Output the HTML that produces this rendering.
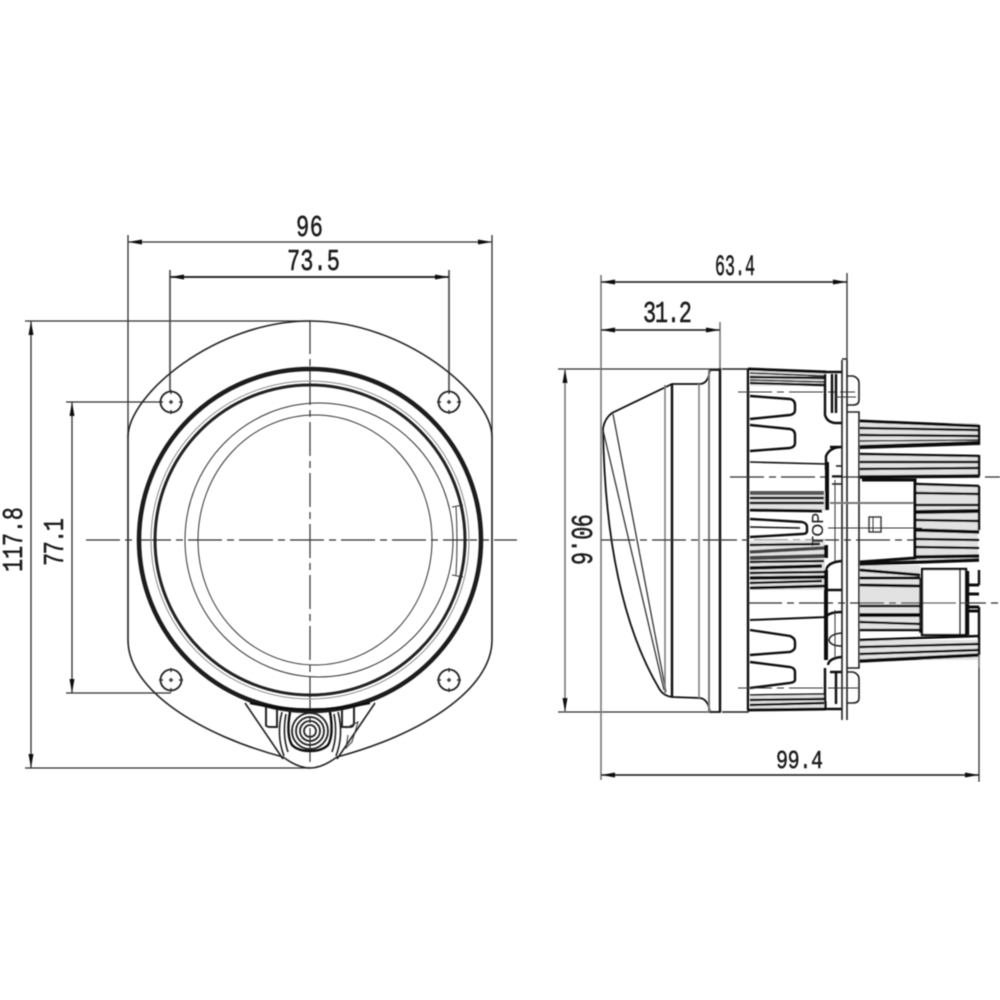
<!DOCTYPE html>
<html><head><meta charset="utf-8"><style>
html,body{margin:0;padding:0;background:#fff;width:1000px;height:1000px;overflow:hidden}
svg{display:block}
text{font-family:"Liberation Mono",monospace;fill:#1a1a1a;font-size:22px;stroke:#1a1a1a;stroke-width:.35}
.d{stroke:#333;stroke-width:1.3;fill:none}
.g{stroke:#777;stroke-width:2;fill:none}
.c{stroke:#333;stroke-width:1.2;fill:none;stroke-dasharray:34 5 7 5}
.o{stroke:#222;stroke-width:1.6;fill:none}
.t{stroke:#333;stroke-width:1;fill:none}
.k{stroke:#111;stroke-width:2.4;fill:none}
.y{stroke:#666;stroke-width:3.5;fill:none}
.a{fill:#111;stroke:none}
</style></head><body>
<svg width="1000" height="1000" viewBox="0 0 1000 1000" xmlns="http://www.w3.org/2000/svg">
<defs><filter id="b" x="0" y="0" width="1" height="1"><feGaussianBlur stdDeviation="0.45"/></filter></defs>
<g filter="url(#b)">

<!-- left dimensions -->
<path class="d" d="M128 235V437M492 235V437M128 242H492"/>
<path class="k" style="stroke-width:1.8;stroke:#555" d="M170 270V391M449 270V391"/>
<path class="k" style="stroke-width:1.8" d="M170 277H449"/>
<path class="d" d="M25 321H310M25 768H310M31 321V768M66 402H160M66 693H171M72 402V693"/>
<path class="a" d="M128 242l14-2.5v5zM492 242l-14-2.5v5zM170 277l14-2.5v5zM449 277l-14-2.5v5zM31 321l-2.5 14h5zM31 768l-2.5-14h5zM72 402l-2.5 14h5zM72 693l-2.5-14h5z"/>
<text transform="translate(296 236) scale(1 1.38)" textLength="27" lengthAdjust="spacing">96</text>
<text transform="translate(287 270) scale(1 1.38)" textLength="53" lengthAdjust="spacing">73.5</text>
<text transform="translate(22 572) rotate(-90) scale(1 1.3)" textLength="65" lengthAdjust="spacing">117.8</text>
<text transform="translate(63 566) rotate(-90) scale(1 1.3)" textLength="48" lengthAdjust="spacing">77.1</text>

<!-- flange -->
<path class="o" d="M128 437C128 395 215 321 310 321C405 321 492 395 492 437V640C492 690 420 735 337 757Q322 768 310 768Q298 768 283 757C200 735 128 690 128 640Z"/>
<path class="c" d="M310 320V768"/>
<path class="c" d="M86 540H517"/>

<!-- lens rings -->
<circle cx="310" cy="540" r="171" fill="none" stroke="#1a1a1a" stroke-width="4.5"/>
<circle cx="310" cy="540" r="155" fill="none" stroke="#222" stroke-width="3"/>
<circle cx="310" cy="540" r="159" fill="none" stroke="#888" stroke-width="1"/>
<ellipse cx="319" cy="540" rx="134" ry="137" class="t"/>
<ellipse cx="315" cy="540" rx="117" ry="125" class="t"/>
<path class="t" d="M452 507L463 505M452 575L463 577M456 507Q458 540 456 575"/>

<!-- holes -->
<g class="o" style="stroke-width:1.8">
<circle cx="171" cy="402" r="10.5"/><circle cx="449" cy="402" r="10.5"/>
<circle cx="171" cy="680" r="10.5"/><circle cx="449" cy="680" r="10.5"/>
</g>
<path class="t" style="stroke-width:1.5" d="M171 390v4M171 400v4M171 410v4M159 402h4M169 402h4M179 402h4M449 390v4M449 400v4M449 410v4M437 402h4M447 402h4M457 402h4M171 668v4M171 678v4M171 688v4M159 680h4M169 680h4M179 680h4M449 668v4M449 678v4M449 688v4M437 680h4M447 680h4M457 680h4"/>

<!-- bottom connector -->
<path class="o" d="M245 703L283 759M375 703L337 759"/>
<path class="k" d="M250 703Q310 716 370 703"/>
<path class="o" style="stroke-width:2" d="M266 707V725Q266 727 272 727H277V709M342 709V727H350Q354 727 354 722V707"/>
<path class="k" d="M290 712Q286 735 292 745Q298 751 310 751Q322 751 328 745Q334 735 330 712"/>
<path class="o" d="M282 712Q276 735 284 756M338 712Q344 735 336 756M286 714Q282 735 288 752M334 714Q338 735 332 752"/>
<g fill="none" stroke="#222" stroke-width="1.8">
<circle cx="310" cy="731" r="6"/><circle cx="310" cy="731" r="10"/><circle cx="310" cy="731" r="14"/><circle cx="310" cy="731" r="18"/>
</g>
<path class="t" d="M346 728L358 722L352 742L346 748L348 735"/>

<!-- right dimensions -->
<path class="d" d="M847 273V360M979 668V782M558 369H720M558 712H720"/>
<path class="g" style="stroke-width:1.6" d="M720 322V370M601 275V780M565 369V712"/>
<path class="k" style="stroke-width:1.6" d="M601 282H847M601 330H720M601 775H979"/>
<path class="a" d="M601 282l14-2.5v5zM847 282l-14-2.5v5zM601 330l14-2.5v5zM720 330l-14-2.5v5zM601 775l14-2.5v5zM979 775l-14-2.5v5zM565 369l-2.5 14h5zM565 712l-2.5-14h5z"/>
<text transform="translate(715 275) scale(1 1.55)" textLength="40" lengthAdjust="spacingAndGlyphs" style="font-size:19px">63.4</text>
<text transform="translate(643 322) scale(1 1.38)" textLength="49" lengthAdjust="spacing">31.2</text>
<text transform="translate(776 768) scale(1 1.3)" textLength="47" lengthAdjust="spacing" style="font-size:20px">99.4</text>
<text transform="translate(572 514) rotate(90) scale(1 1.38)" textLength="51" lengthAdjust="spacing">90.6</text>

<!-- lens side -->
<path class="k" style="stroke-width:1.8" d="M603 428Q605 418 612 413L672 384H700Q708 384 710 370H720V712H710Q708 699 700 698L672 697Q664 696 660 690C630 640 605 560 603 428Z"/>
<path class="t" style="stroke-width:1.3" d="M603 430L664 690M613 414L666 692"/>
<path class="g" style="stroke-width:1.5" d="M665 385V694M699 384V698"/>
<path class="k" d="M672 384V697"/>
<path class="g" d="M709 370V712"/>
<path class="k" d="M720 368V712"/>
<path class="o" d="M722 369H748V712H722"/>
<path class="k" d="M748 369V710"/>
<path class="c" d="M601 540H960"/>
<path class="t" d="M601 369H720"/>

<!-- upper heat sink -->
<path fill="#e2e2e2" d="M750 371H825V386H750ZM750 492H825V511H750ZM750 540H825V590H750ZM750 694H825V710H750ZM860 423H978V445H860ZM860 455H978V476H860ZM916 485H978V560H916ZM860 565H920V630H860ZM860 640H978V660H860Z"/>
<g class="k">
<path style="stroke-width:3" d="M748 369L826 372"/>
<path d="M750 377L824 378M750 383L824 385"/>
<path style="stroke-width:1.5" d="M750 373L824 376M750 380L824 382"/>
<path d="M750 396L790 399Q795 400 795 405V410Q795 414 790 415L750 419"/>
<path d="M750 425L790 429Q795 430 795 435V443Q795 447 790 448L750 451"/>
<path style="stroke-width:1.6" d="M750 462L826 464"/>
<path class="y" style="stroke:#555;stroke-width:4" d="M750 493L824 493"/>
<path d="M750 498L824 498M750 503L824 503"/>
<path style="stroke-width:3" d="M750 510L822 511"/>
<path d="M750 519L802 522Q807 523 807 527V531Q807 534 802 534L750 537"/>
<path style="stroke-width:1.5" d="M750 527L800 528"/>
<path d="M750 545L820 544"/>
<path style="stroke:#444;stroke-width:3.5" d="M750 552L824 548"/>
<path style="stroke:#444;stroke-width:4" d="M750 558L824 556"/>
<path d="M750 562L824 561"/>
<path style="stroke-width:3.5" d="M750 568L822 566"/>
<path d="M750 573L824 572"/>
<path style="stroke-width:3.5" d="M750 578L824 577"/>
<path d="M750 583L822 581"/>
<path style="stroke-width:3" d="M750 588L824 586"/>
<path style="stroke-width:2" d="M750 620L828 617"/>
<path d="M750 630L790 636Q795 638 795 642V647Q795 650 790 652L750 655"/>
<path d="M750 662L790 667Q795 668 795 672V680Q795 682 790 683L750 688"/>
<path style="stroke-width:1.6" d="M750 695L826 694"/>
<path d="M750 700L824 699M750 705L824 703"/>
<path style="stroke-width:3" d="M748 710L826 709"/>
</g>
<path class="c" style="stroke-width:1.1" d="M738 392H855M738 688H855"/>
<path class="c" d="M730 477H1000"/>
<path class="c" d="M748 603H1000"/>

<!-- brackets -->
<g class="k">
<path d="M825 372H842M825 374V415Q827 422 835 423H842M836 374V413M832 374V413"/>
<path d="M826 470V456Q830 447 842 447H830"/>
<path style="stroke-width:4" d="M827 462V510"/>
<path style="stroke-width:4" d="M826 545V558M826 570V660"/>
<path d="M826 570Q828 562 842 561M826 590H842M826 617Q829 612 842 612"/>
<path d="M828 665Q829 658 842 657M830 672H842M825 668V700Q826 705 825 709H842M836 672V704"/>
<path style="stroke-width:1.5" d="M832 476H842M832 484H842M836 466H842"/>
</g>
<path class="o" d="M842 633Q830 634 829 640Q830 646 842 646"/>
<path class="t" d="M835 480V561M835 610V660"/>
<!-- plates -->
<path class="o" d="M842 360V720M847 360V720M842 359H847"/>
<path class="o" d="M847 412H859V668H847"/>
<path class="o" d="M847 376H853Q859 378 859 383V400Q859 405 853 405H847M847 672H853Q859 674 859 679V698Q859 703 853 703H847"/>
<path class="t" d="M836 397H856M836 688H858"/>
<path class="g" d="M830 503H915"/>
<path class="t" d="M828 528H922"/>

<!-- TOP -->
<text transform="translate(823 546) rotate(-90)" textLength="33" lengthAdjust="spacing" style="font-family:'Liberation Sans',sans-serif;font-size:16px;stroke-width:.2">TOP</text>

<!-- right fins -->
<g class="k">
<path style="stroke-width:3" d="M860 421L979 426"/>
<path d="M860 428L978 430M860 435L978 436"/>
<path style="stroke-width:4" d="M860 447L979 443"/>
<path style="stroke-width:1.4" d="M860 441L978 440"/>
<path d="M979 425V445"/>
<path d="M860 454L979 456M860 462L978 462M860 469L978 468"/>
<path style="stroke-width:3.5" d="M860 477L979 476"/>
<path d="M979 455V476"/>
<path style="stroke-width:3" d="M862 480H915V558L860 562"/>
<path d="M916 484L979 486M916 493L979 494"/>
<path style="stroke-width:4" d="M916 512L979 511"/>
<path d="M916 505L979 505M916 520L979 521"/>
<path style="stroke-width:3.5" d="M916 530L979 532M916 557L979 556"/>
<path d="M916 539L979 540M916 547L979 548M979 486V530"/>
<path style="stroke-width:3.5" d="M860 564L979 560"/>
<path style="stroke-width:3" d="M860 570L920 575M860 578L920 578M860 585L920 586"/>
<path d="M860 606L920 606"/>
<path style="stroke-width:4" d="M860 615L920 615"/>
<path d="M860 622L920 624M860 630L922 630"/>
<path d="M860 640L979 636M860 647L979 644M860 654L979 650"/>
<path style="stroke-width:3.5" d="M860 661L979 655"/>
</g>
<rect x="922" y="569" width="44" height="66" fill="#fff" stroke="#111" stroke-width="2.4"/>
<g class="k">
<path style="stroke-width:1.6" d="M920 578V632H923M960 570V635"/>
<path style="stroke-width:3" d="M968 585H979M968 594H979M968 607H979M968 611H979"/>
<path d="M979 570V585M979 607V655M968 571V635"/>
</g>
<path class="c" d="M922 603H968"/>
<rect x="869" y="517" width="12" height="15" fill="none" stroke="#333" stroke-width="1.4"/>
<path class="t" d="M873 517V532"/>
<path class="g" style="stroke-width:1.6" d="M979 655V668"/>
</g>
</svg>
</body></html>
